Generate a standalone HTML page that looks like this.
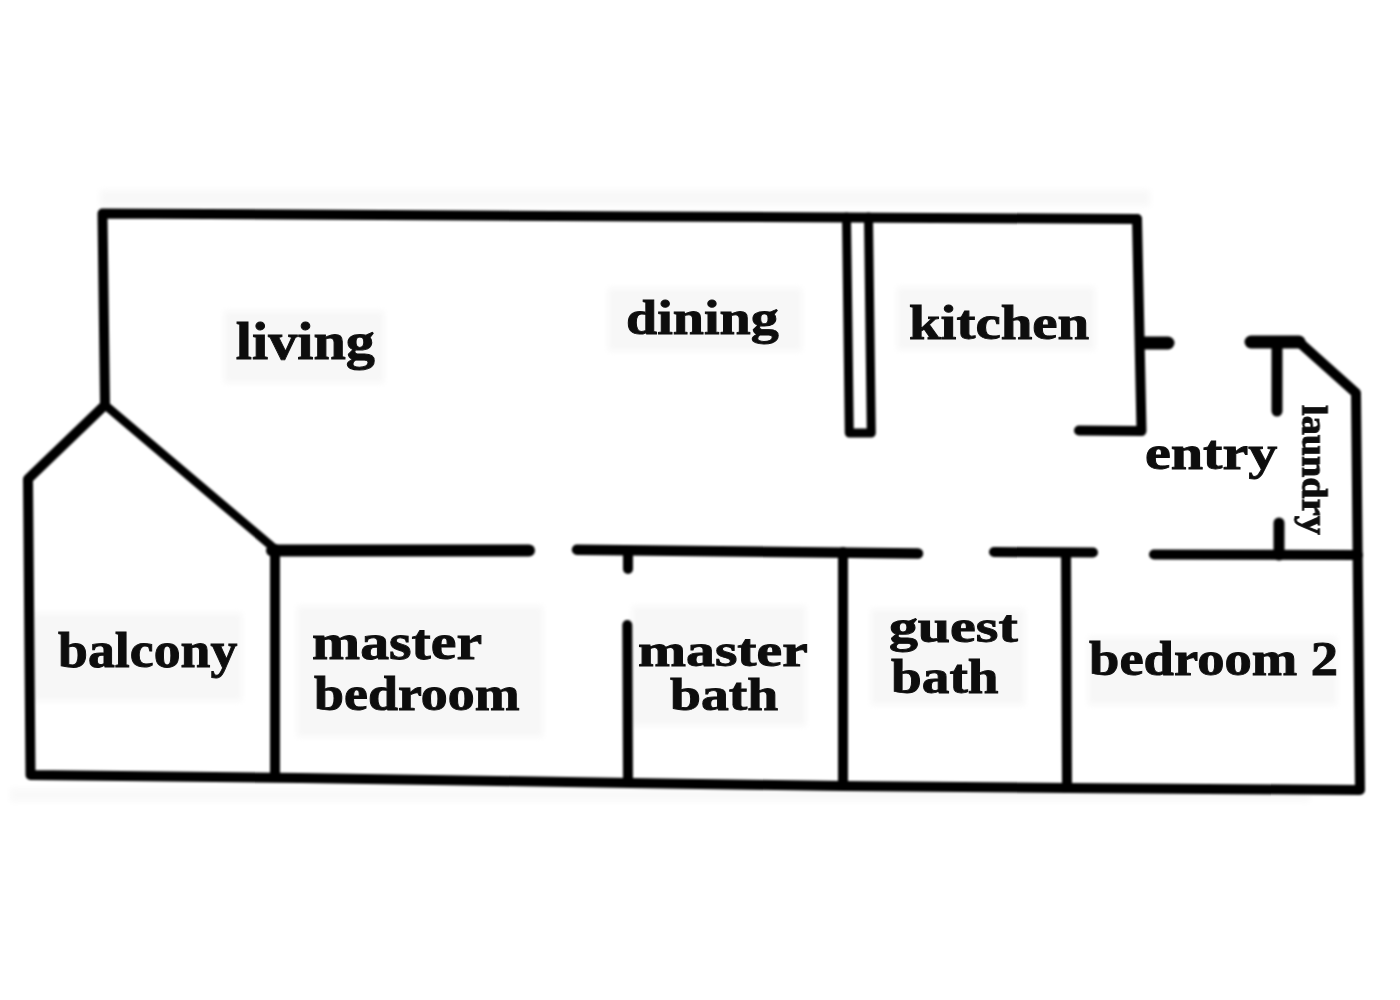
<!DOCTYPE html>
<html><head><meta charset="utf-8">
<style>
html,body{margin:0;padding:0;background:#fff;}
body{width:1400px;height:1000px;overflow:hidden;}
svg{display:block;}
text{font-family:"Liberation Serif",serif;font-weight:bold;fill:#0d0d0d;stroke:#0d0d0d;stroke-width:0.9px;}
</style></head>
<body>
<svg width="1400" height="1000" viewBox="0 0 1400 1000">
<rect width="1400" height="1000" fill="#fff"/>
<defs><filter id="bb"><feGaussianBlur stdDeviation="3"/></filter></defs>
<g fill="#f7f7f7" filter="url(#bb)">
<rect x="100" y="190" width="1050" height="16" fill="#f8f8f8"/>
<rect x="10" y="788" width="1300" height="14" fill="#f9f9f9"/>
<rect x="224" y="311" width="160" height="72"/>
<rect x="608" y="288" width="194" height="63"/>
<rect x="897" y="287" width="198" height="63"/>
<rect x="33" y="613" width="209" height="88"/>
<rect x="297" y="606" width="246" height="131"/>
<rect x="632" y="606" width="174" height="120"/>
<rect x="871" y="609" width="154" height="96"/>
<rect x="1088" y="637" width="249" height="68"/>
</g>
<!--WALLS-->
<defs><filter id="bl" x="-5%" y="-5%" width="110%" height="110%"><feGaussianBlur stdDeviation="1.1"/></filter></defs>
<g filter="url(#bl)">
<g fill="none" stroke="#050505" stroke-width="10" stroke-linejoin="round" stroke-linecap="round">
<polyline points="1137,219 650,216.5 102.5,213.5 105,405 28,479 30.5,775 300,778 630,783 843,786 1067,788 1360,790 1356,393 1299,342 1250,342" stroke-width="10"/>
<line x1="105" y1="405" x2="275" y2="549" stroke-width="8.5"/>
<line x1="275" y1="549" x2="275" y2="777"/>
<polyline points="1137,219 1141.5,431 1079,430.5"/>
<line x1="1142" y1="343" x2="1168" y2="343" stroke-width="13"/>
<path d="M846.5,217 L849.3,433 L871.3,433 L868.5,217" stroke-width="9"/>
<line x1="272" y1="550.5" x2="529" y2="550.5" stroke-width="12"/>
<line x1="577" y1="549.7" x2="918" y2="553.5" stroke-width="10.5"/>
<line x1="994" y1="552" x2="1093" y2="552.5" stroke-width="10"/>
<line x1="1154" y1="554.5" x2="1358" y2="555" stroke-width="10"/>
<line x1="628" y1="551" x2="628" y2="569" stroke-width="10"/>
<line x1="627.3" y1="625" x2="628" y2="782"/>
<line x1="843" y1="552" x2="843" y2="785"/>
<line x1="1066" y1="553" x2="1067" y2="787"/>
<line x1="1277" y1="342" x2="1277" y2="411" stroke-width="11"/>
<line x1="1279" y1="523" x2="1279" y2="555" stroke-width="11"/>
<line x1="1251" y1="342" x2="1299" y2="342" stroke-width="13"/>
</g>
</g>
<text filter="url(#tb)" transform="translate(1302.5,405) rotate(90) scale(1.064,1)" font-size="36">laundry</text>
<!--/WALLS-->
<defs><filter id="tb" x="-5%" y="-20%" width="110%" height="140%"><feGaussianBlur stdDeviation="0.45"/></filter></defs>
<g filter="url(#tb)">
<text transform="translate(235.86,358.5) scale(1.0852,1)" font-size="53.61">living</text>
<text transform="translate(626.02,334.4) scale(1.1313,1)" font-size="49.58">dining</text>
<text transform="translate(908.96,339) scale(1.1971,1)" font-size="47.56">kitchen</text>
<text transform="translate(1144.93,468.6) scale(1.1866,1)" font-size="49.02">entry</text>
<text transform="translate(58.07,667) scale(1.0662,1)" font-size="50.44">balcony</text>
<text transform="translate(312.03,658.8) scale(1.1297,1)" font-size="51.16">master</text>
<text transform="translate(314.01,710) scale(1.1334,1)" font-size="47.56">bedroom</text>
<text transform="translate(638.04,665.7) scale(1.2635,1)" font-size="45.65">master</text>
<text transform="translate(669.94,710) scale(1.1955,1)" font-size="46.55">bath</text>
<text transform="translate(888.88,641.7) scale(1.2702,1)" font-size="45.65">guest</text>
<text transform="translate(891.01,693) scale(1.1288,1)" font-size="49.00">bath</text>
<text transform="translate(1089.03,674.5) scale(1.1138,1)" font-size="49.00">bedroom 2</text>
</g>
</svg>
</body></html>
